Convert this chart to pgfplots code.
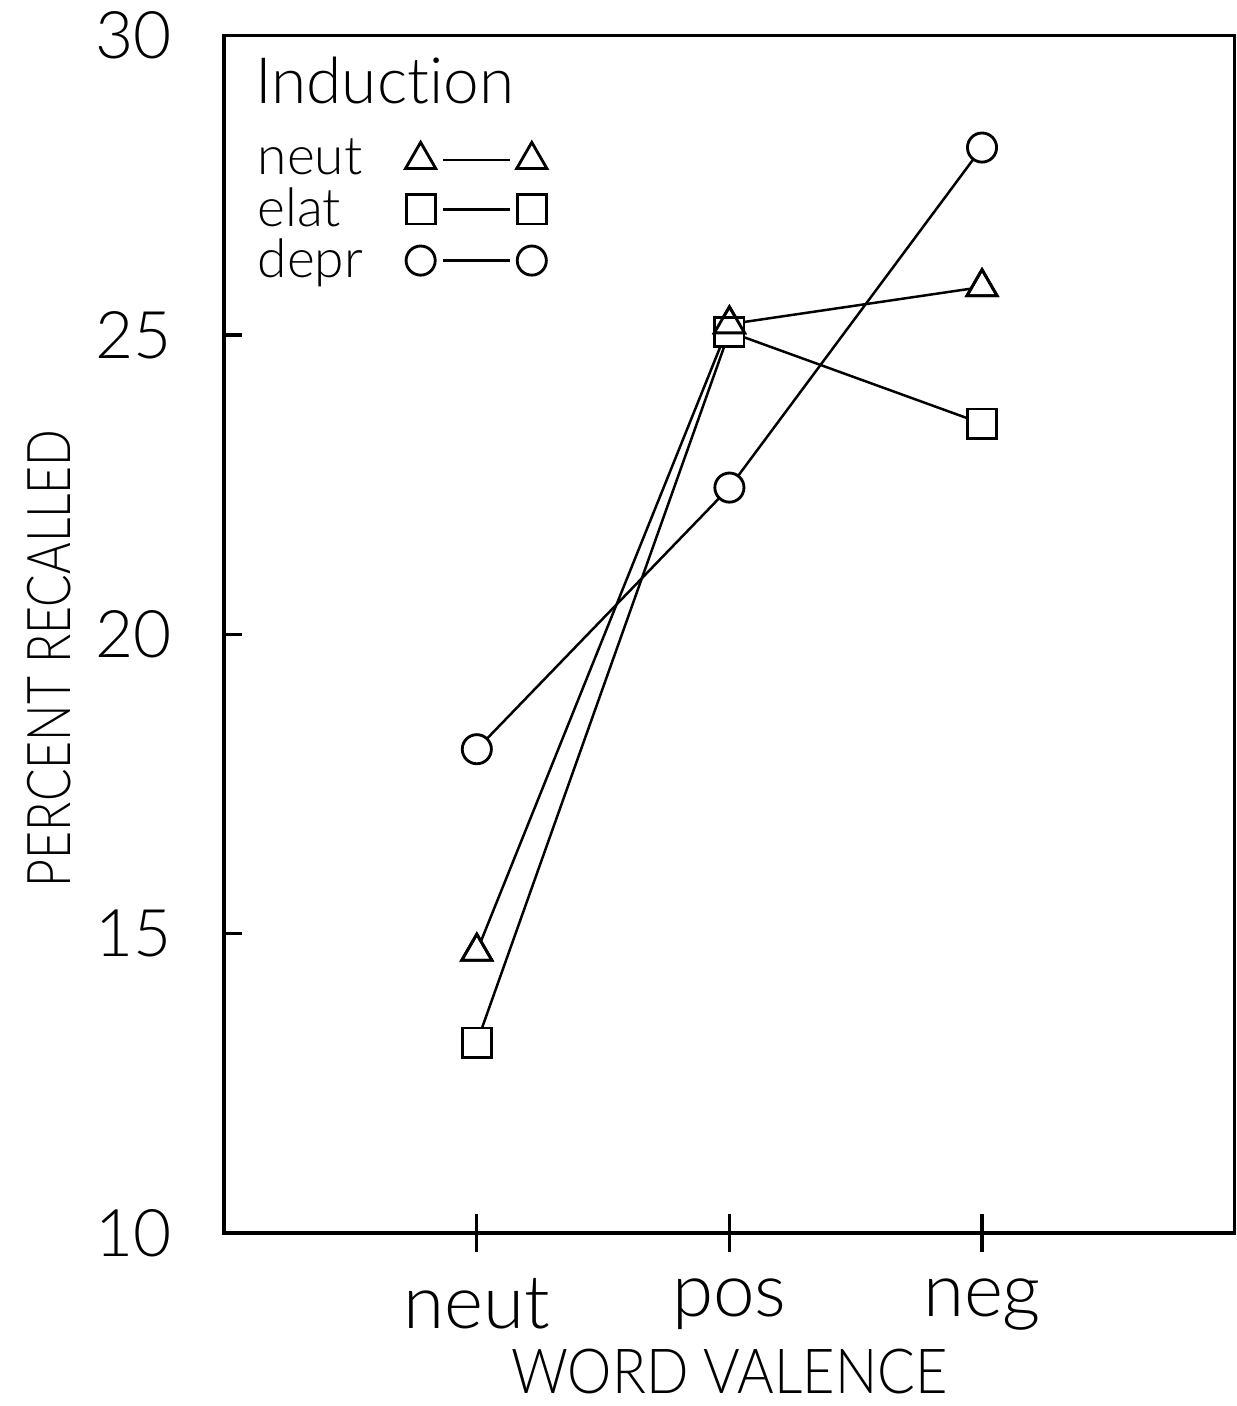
\documentclass[border=0pt]{standalone}
\usepackage{fontspec}
\setmainfont{Lato}[UprightFont=* Light, Ligatures=NoCommon]
\newfontfamily\xlabfont{Lato}[UprightFont=* Light, FakeStretch=0.9]
\newfontfamily\ylabfont{Lato}[UprightFont=* Light, FakeStretch=0.8]
\usepackage{pgfplots}
\usepackage{pgfplotstable}
\pgfplotsset{compat=1.18}

% percent recalled by word valence, one column per induction
\pgfplotstableread{
x neut elat depr
1 14.70 13.18 18.08
2 25.18 25.05 22.45
3 25.80 23.52 28.13
}\recall

\begin{document}
\begin{tikzpicture}
\begin{axis}[
  scale only axis,
  width=10cm, height=11.85cm,
  xmin=0, xmax=4, ymin=10, ymax=30,
  xtick={1,2,3}, xticklabels={neut,pos,neg},
  ytick={10,15,20,25,30},
  xtick pos=left, ytick pos=left,
  xtick align=center, ytick align=inside,
  xtick style={black, line width=0.9pt, /pgfplots/major tick length=0.38cm},
  ytick style={black, line width=0.9pt, /pgfplots/major tick length=0.18cm},
  axis line style={line width=1pt},
  /pgf/number format/assume math mode=true,
  yticklabel style={font=\fontsize{18.5}{20}\selectfont, xshift=-0.4cm},
  xticklabel style={font=\fontsize{21}{24}\selectfont, yshift=-0.25cm},
  xlabel={\xlabfont\fontsize{17.5}{20}\selectfont WORD VALENCE},
  xlabel style={yshift=0.05cm},
  ylabel={\ylabfont\fontsize{17}{20}\selectfont PERCENT RECALLED},
  ylabel style={at={(ticklabel cs:0.48)}},
  legend style={at={(rel axis cs:0.022,0.92)}, anchor=north west,
    draw=none, fill=none, font=\fontsize{15}{17}\selectfont,
    nodes={inner sep=0pt}, column sep=0.42cm, row sep=0.07cm},
  legend cell align=left,
  legend plot pos=right,
  legend image code/.code={
    \draw[#1, only marks] plot coordinates {(0cm,0cm) (1.1cm,0cm)};
    \draw[#1, mark=none] (0.22cm,0cm) -- (0.88cm,0cm);
  },
]
\addplot[black, line width=0.7pt, mark=triangle*, mark size=4.9pt,
  mark options={fill=white, draw=black, line width=0.8pt}] table[x=x, y=neut] {\recall};
\addlegendentry{neut}
\addplot[black, line width=0.7pt, mark=square*, mark size=4.1pt,
  mark options={fill=white, draw=black, line width=0.8pt}] table[x=x, y=elat] {\recall};
\addlegendentry{elat}
\addplot[black, line width=0.7pt, mark=*, mark size=4.1pt,
  mark options={fill=white, draw=black, line width=0.8pt}] table[x=x, y=depr] {\recall};
\addlegendentry{depr}

% outlines again on top so overlapping markers both show
\addplot[forget plot, black, only marks, mark=triangle, mark size=4.9pt,
  mark options={line width=0.8pt}] table[x=x, y=neut] {\recall};
\addplot[forget plot, black, only marks, mark=square, mark size=4.1pt,
  mark options={line width=0.8pt}] table[x=x, y=elat] {\recall};

% kerns keep Lato from joining c-t-i
\node[anchor=base west, inner sep=0pt, font=\fontsize{18}{20}\selectfont]
  at (rel axis cs:0.03,0.943) {Induc\kern0pt t\kern0pt ion};
\end{axis}
% a little white room left of the y label, as in the original
\path ([xshift=-0.15cm]current bounding box.west);
\end{tikzpicture}
\end{document}
